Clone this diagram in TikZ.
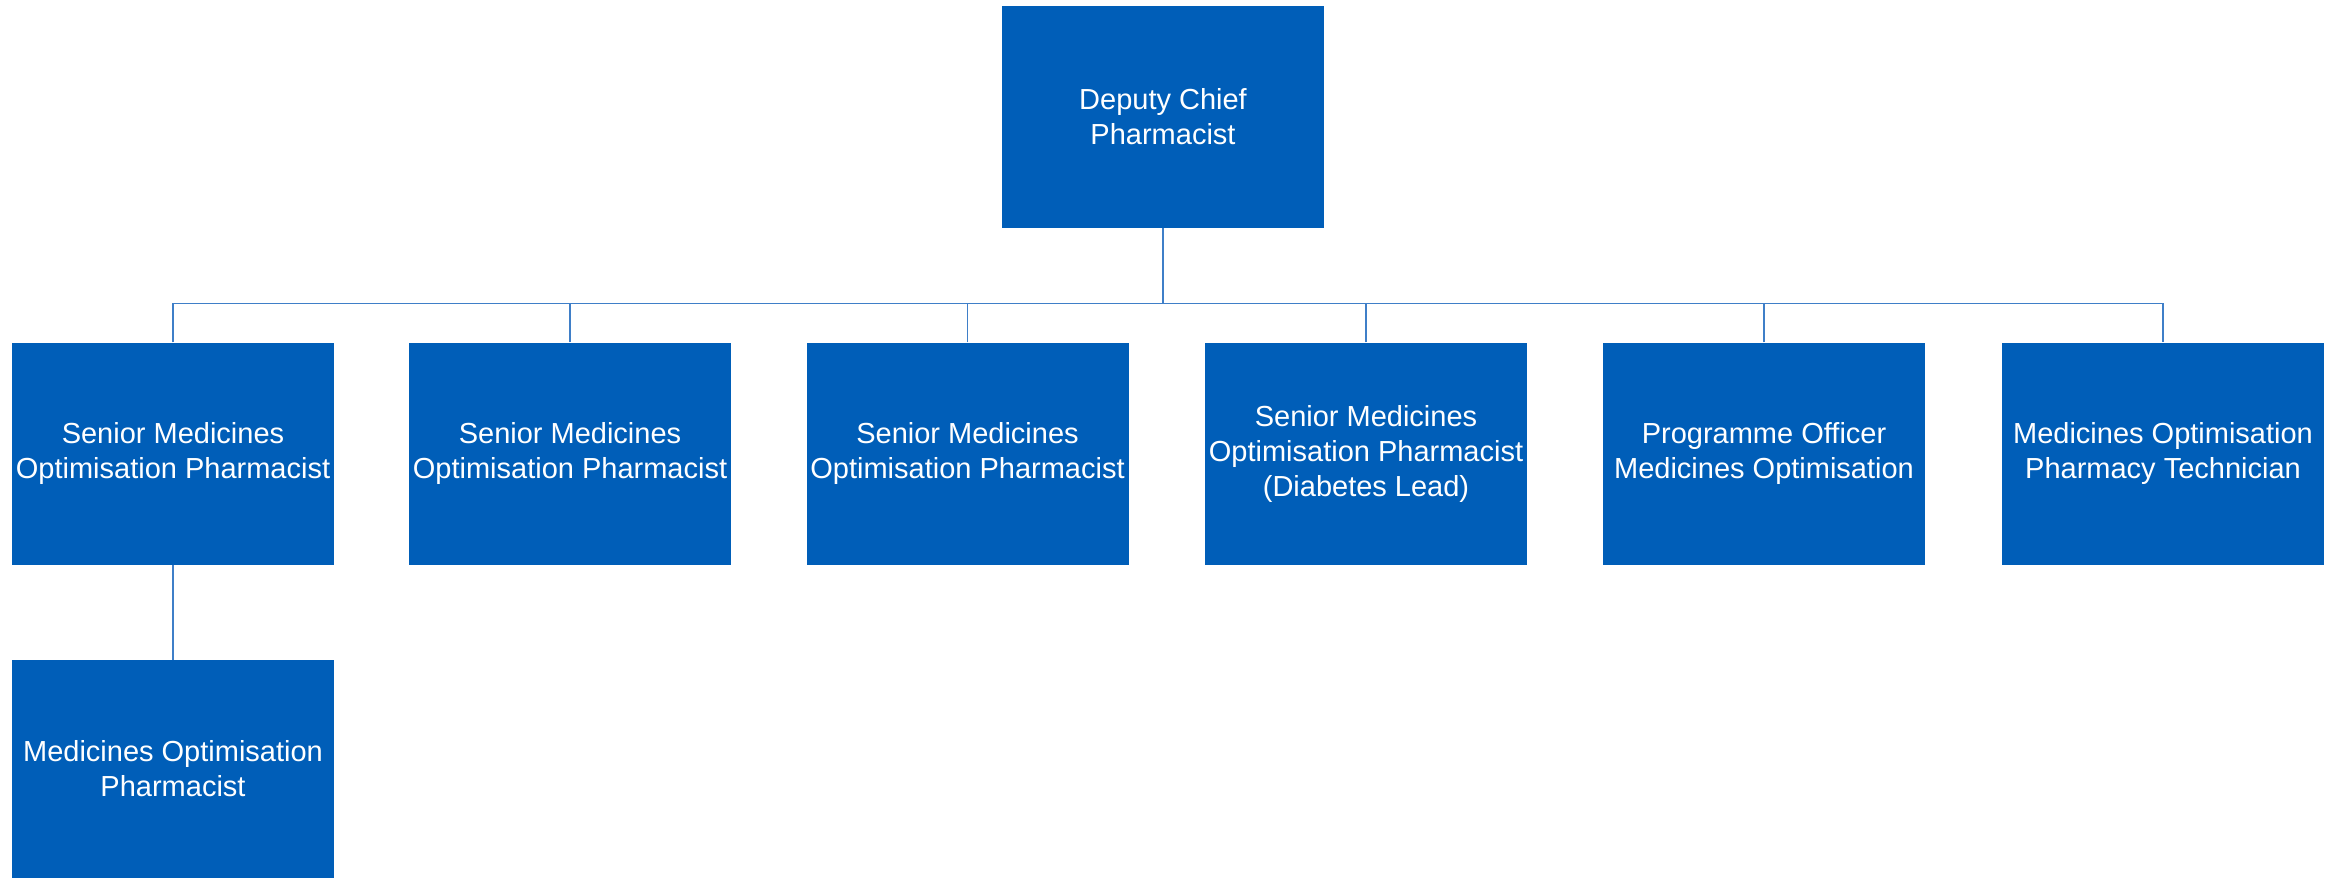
\documentclass[tikz,border=0pt]{standalone}
\usepackage{fontspec}
\setmainfont{Liberation Sans}
\definecolor{boxblue}{HTML}{005EB8}
\definecolor{lineblue}{HTML}{3F7FC8}
\begin{document}
\begin{tikzpicture}[x=1pt,y=-1pt,
  rolebox/.style={fill=boxblue, draw=none, text=white, minimum width=322pt, minimum height=222pt,
    inner sep=0pt, align=center, font=\fontsize{29}{35}\selectfont},
  link/.style={draw=lineblue, line width=1.6pt}]
\useasboundingbox[fill=white] (0,0) rectangle (2334,878);
\node[rolebox] (top) at (1163,117) {Deputy Chief\\Pharmacist};
\node[rolebox] (b1) at (173,453.5) {Senior Medicines\\Optimisation Pharmacist};
\node[rolebox] (b2) at (570,453.5) {Senior Medicines\\Optimisation Pharmacist};
\node[rolebox] (b3) at (967.5,453.5) {Senior Medicines\\Optimisation Pharmacist};
\node[rolebox] (b4) at (1366,453.5) {Senior Medicines\\Optimisation Pharmacist\\(Diabetes Lead)};
\node[rolebox] (b5) at (1764,453.5) {Programme Officer\\Medicines Optimisation};
\node[rolebox] (b6) at (2163,453.5) {Medicines Optimisation\\Pharmacy Technician};
\node[rolebox, minimum height=218pt] (c1) at (173,769) {Medicines Optimisation\\Pharmacist};
\coordinate (bus) at (0,303.5);
\draw[link] (top.south) -- (top.south |- bus);
\draw[link] (b1.north) -- (b1.north |- bus) -- (b6.north |- bus) -- (b6.north);
\foreach \b in {b2,b3,b4,b5} {\draw[link] (\b.north) -- (\b.north |- bus);}
\draw[link] (b1.south) -- (c1.north);
\end{tikzpicture}
\end{document}
